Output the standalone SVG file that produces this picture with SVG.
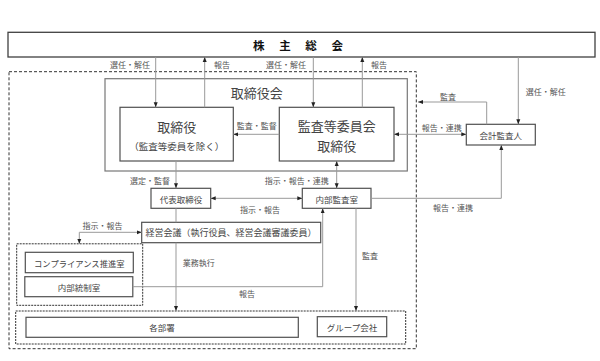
<svg xmlns="http://www.w3.org/2000/svg" width="600" height="361" viewBox="0 0 600 361">
<style>
text{font-family:"Noto Sans CJK JP","Noto Sans CJK SC",sans-serif;text-anchor:middle;dominant-baseline:central}
.box{fill:#fff;stroke:#505050;stroke-width:1.2}
.grp{fill:none;stroke:#333;stroke-width:1;stroke-dasharray:2,1}
.outer{fill:none;stroke:#333;stroke-width:1;stroke-dasharray:3,2}
.lbl{font-size:8px;fill:#555}
.nt{font-size:8.5px;fill:#444}
.big{font-size:13px;fill:#444}
.ln{fill:none;stroke:#999;stroke-width:1}
.a{marker-end:url(#ah)}
.b{marker-start:url(#ah);marker-end:url(#ah)}
</style>
<defs>
<marker id="ah" viewBox="0 0 10 10" refX="10" refY="5" markerWidth="5" markerHeight="5" markerUnits="userSpaceOnUse" orient="auto-start-reverse"><path d="M0,1 L10,5 L0,9 z" fill="#222"/></marker>
</defs>
<rect width="600" height="361" fill="#fff"/>
<rect class="outer" x="9" y="71.7" width="407.3" height="277"/>
<g id="shareholders"><rect class="box" x="8" y="32.3" width="587" height="24.7" style="stroke:#404040;stroke-width:1.3"/><text x="301" y="45" style="font-size:11.5px;font-weight:bold;fill:#111;letter-spacing:6px">株 主 総 会</text></g>
<g id="board"><rect class="box" x="105" y="78.7" width="302.3" height="92.3" style="stroke:#777"/><text class="big" x="256.7" y="92">取締役会</text></g>
<g id="directors"><rect class="box" x="120" y="107.3" width="113.3" height="53.7"/><text class="big" x="176.7" y="126.7">取締役</text><text x="176.7" y="145.7" style="font-size:9.5px;fill:#444">（監査等委員を除く）</text></g>
<g id="audit-committee"><rect class="box" x="279.3" y="107.3" width="114.7" height="53.7"/><text class="big" x="336.7" y="125">監査等委員会</text><text class="big" x="336.7" y="145">取締役</text></g>
<g id="accounting-auditor"><rect class="box" x="466.3" y="124.3" width="69" height="20.7"/><text class="nt" x="500.8" y="135">会計監査人</text></g>
<g id="representative"><rect class="box" x="151" y="188.3" width="59.7" height="20"/><text class="nt" x="181" y="198.5">代表取締役</text></g>
<g id="internal-audit"><rect class="box" x="302.3" y="188.3" width="68.7" height="20"/><text class="nt" x="336.7" y="198.5">内部監査室</text></g>
<g id="management-meeting"><rect class="box" x="141.7" y="222.3" width="179" height="20.4"/><text x="231" y="232.5" style="font-size:9px;fill:#444">経営会議（執行役員、経営会議審議委員）</text></g>
<g id="control-group"><rect class="grp" x="16.7" y="243.8" width="126" height="61.5"/>
<g id="compliance"><rect class="box" x="25.3" y="252.3" width="108" height="20.4"/><text x="79.3" y="262.5" style="font-size:8.3px;fill:#444">コンプライアンス推進室</text></g>
<g id="internal-control"><rect class="box" x="24.8" y="276.7" width="108" height="20"/><text class="nt" x="79" y="286.7">内部統制室</text></g></g>
<g id="operations-group"><rect class="grp" x="15.7" y="311" width="390" height="33"/>
<g id="departments"><rect class="box" x="26" y="317.3" width="272.3" height="20"/><text class="nt" x="162" y="327.3">各部署</text></g>
<g id="group-companies"><rect class="box" x="317.3" y="316.7" width="69.4" height="20"/><text class="nt" x="352" y="326.8">グループ会社</text></g></g>
<g id="connectors">
<path class="ln a" d="M155.7,57 V107.3"/>
<path class="ln a" d="M204.7,107.3 V57"/>
<path class="ln a" d="M313.3,57 V107.3"/>
<path class="ln a" d="M362.3,107.3 V57"/>
<path class="ln a" d="M518.3,57 V124.3"/>
<path class="ln a" d="M486.7,124.3 V102 H418"/>
<path class="ln b" d="M394,134.3 H466.3"/>
<path class="ln a" d="M279.3,134.3 H233.3"/>
<path class="ln a" d="M176,161 V188.3"/>
<path class="ln b" d="M336.7,161 V188.3"/>
<path class="ln b" d="M210.7,198.3 H302.3"/>
<path class="ln a" d="M371,198.3 H501.3 V145"/>
<path class="ln" d="M176,208.3 V222.3"/>
<path class="ln b" d="M141.7,232.3 H79.3 V243.8"/>
<path class="ln a" d="M176,242.7 V311"/>
<path class="ln a" d="M132.8,286.7 H322.7 V208.3"/>
<path class="ln a" d="M356,208.3 V311"/>
<text class="lbl" x="130" y="64.5">選任・解任</text>
<text class="lbl" x="222" y="64.5">報告</text>
<text class="lbl" x="286" y="64.5">選任・解任</text>
<text class="lbl" x="379" y="64.5">報告</text>
<text class="lbl" x="545.7" y="91">選任・解任</text>
<text class="lbl" x="448" y="96">監査</text>
<text class="lbl" x="441.7" y="127.7">報告・連携</text>
<text class="lbl" x="256.7" y="125.7">監査・監督</text>
<text class="lbl" x="150" y="180.7">選定・監督</text>
<text class="lbl" x="296.7" y="180.7">指示・報告・連携</text>
<text class="lbl" x="260" y="209">指示・報告</text>
<text class="lbl" x="453" y="207.7">報告・連携</text>
<text class="lbl" x="102.5" y="225">指示・報告</text>
<text class="lbl" x="198.7" y="262.7">業務執行</text>
<text class="lbl" x="247" y="293">報告</text>
<text class="lbl" x="370" y="255">監査</text>
</g>
</svg>
